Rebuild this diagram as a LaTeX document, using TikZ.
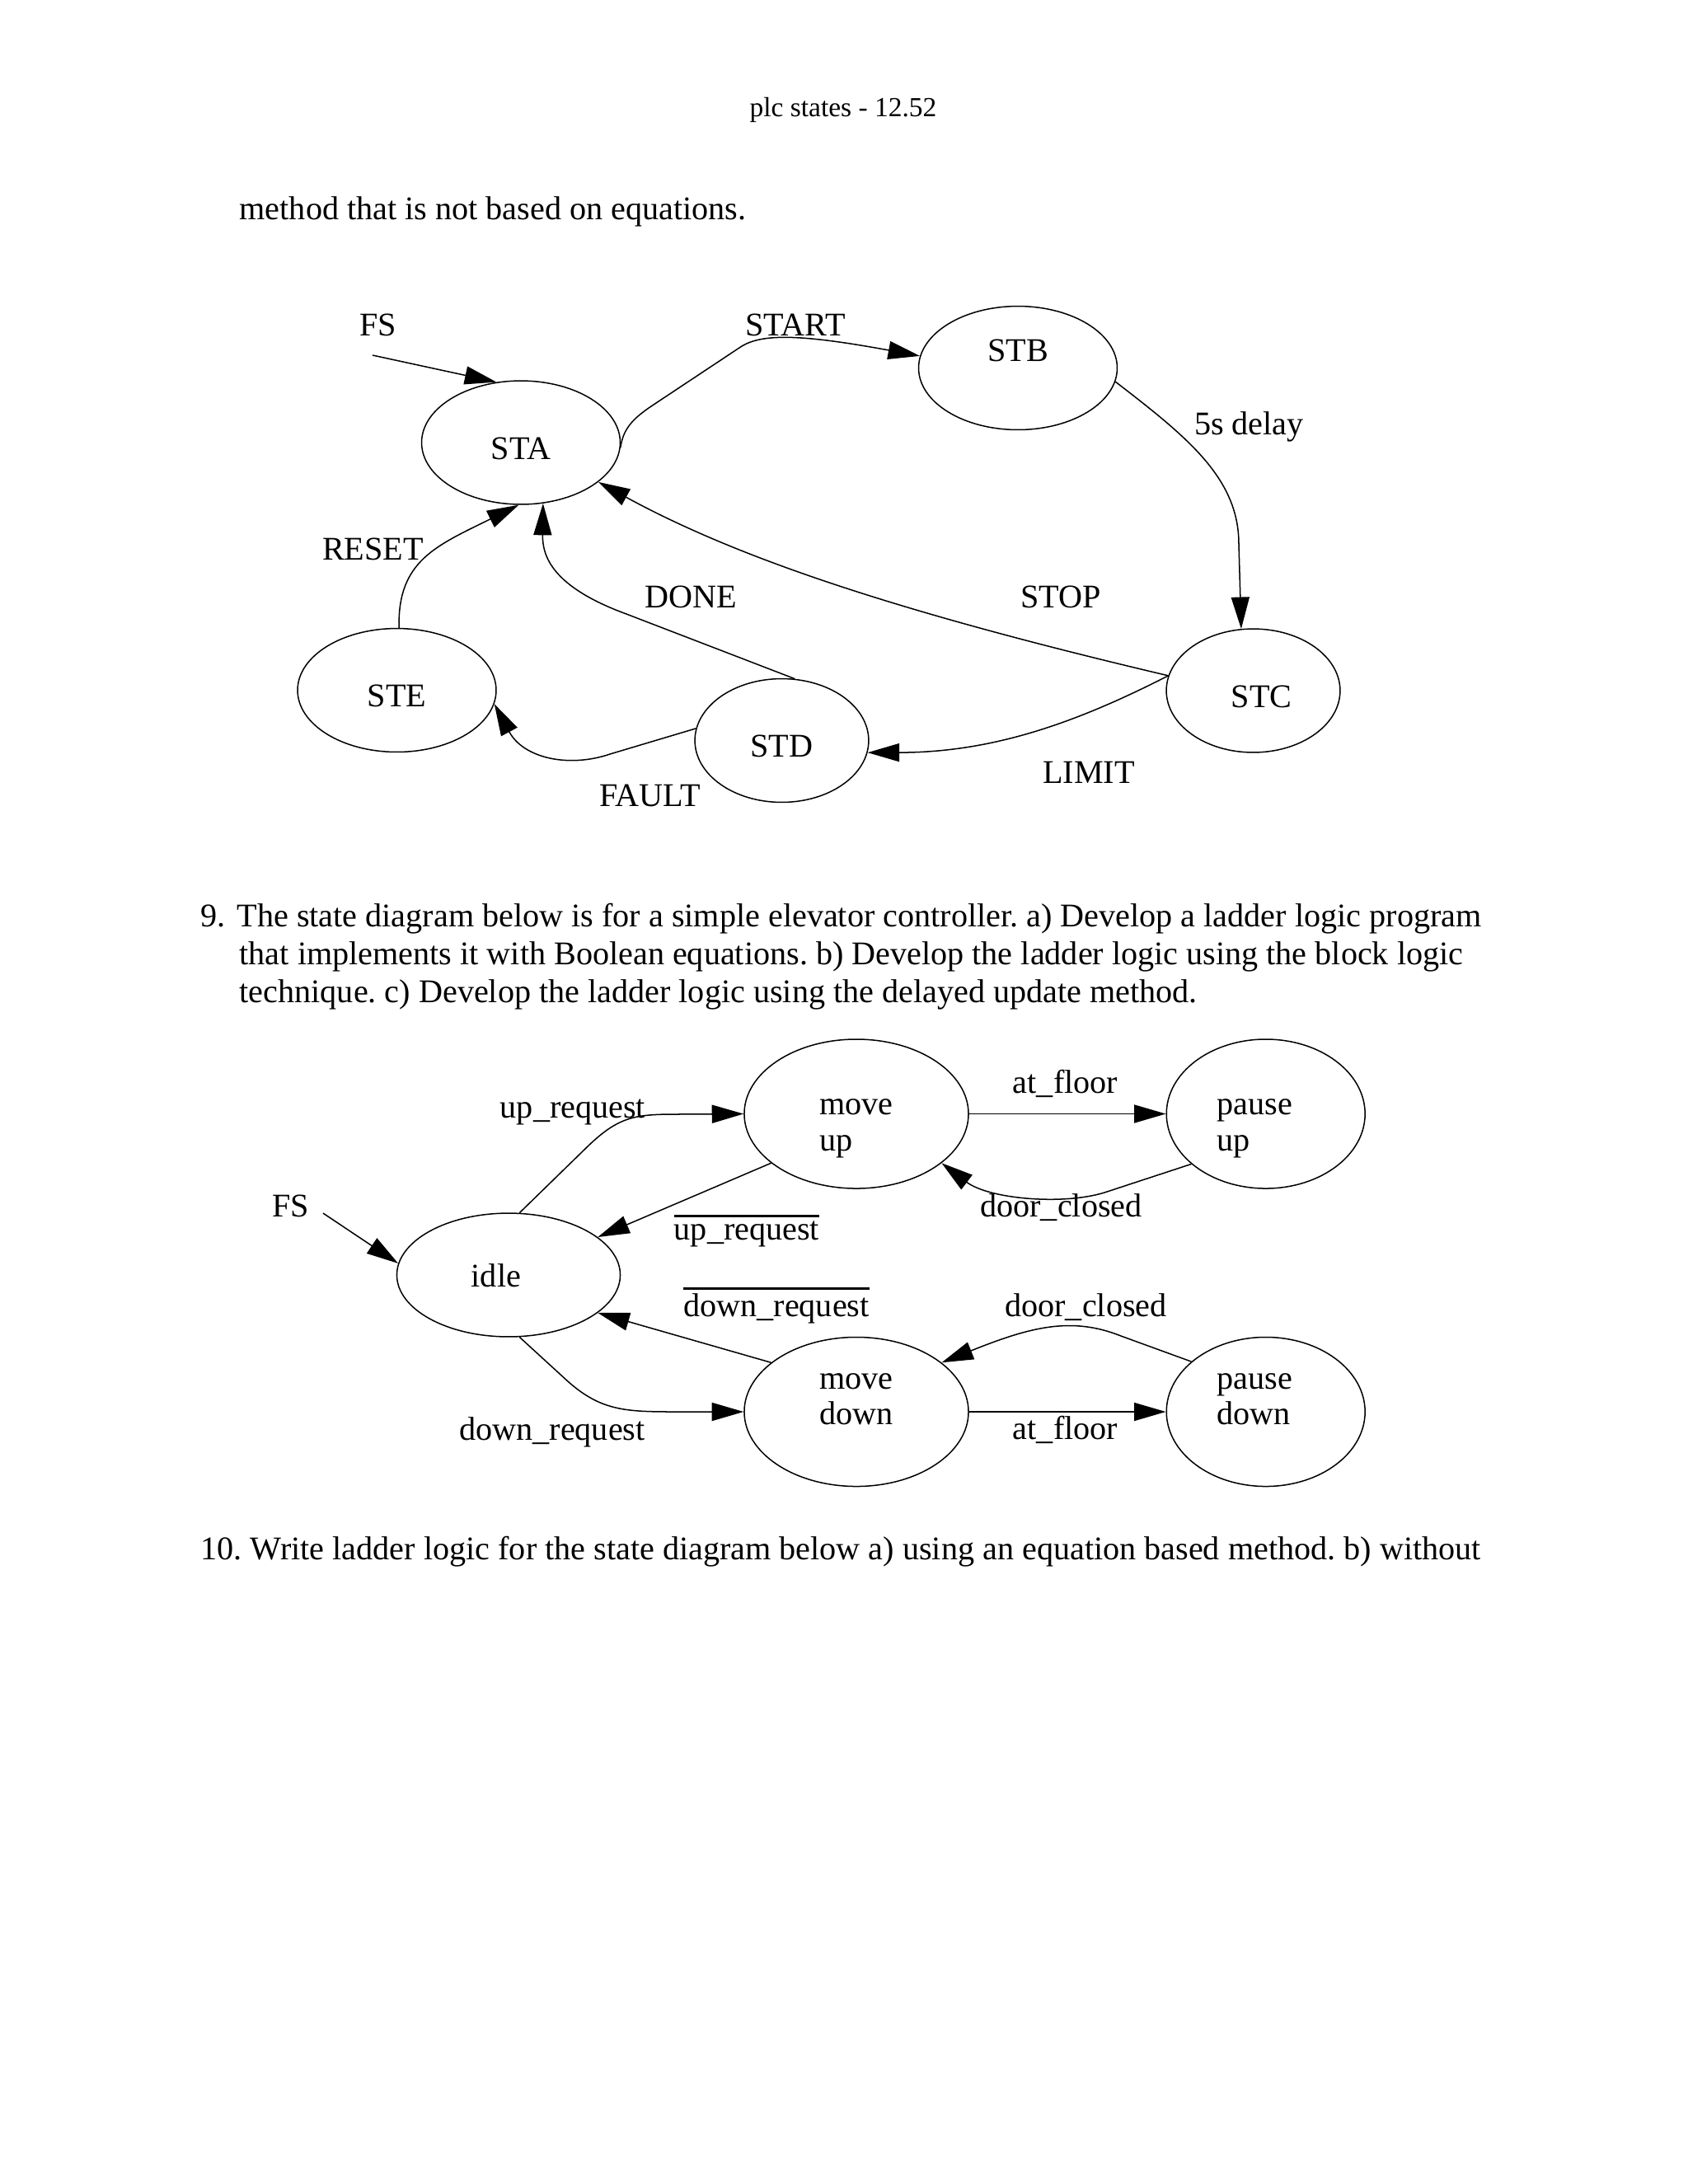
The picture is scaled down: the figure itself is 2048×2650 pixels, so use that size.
\documentclass[tikz,border=0pt]{standalone}
\usepackage{fontspec}
\setmainfont{Liberation Serif}
\usetikzlibrary{arrows.meta,shapes.geometric}
\newcommand{\barlabel}[1]{\vbox{\hrule height 1pt\kern 1.5pt\hbox{#1}}}
\frenchspacing

\begin{document}
\begin{tikzpicture}[x=0.298828pt,y=-0.298828pt,line width=0.45pt,
  >={Triangle[length=11.5pt,width=6.6pt]},
  state/.style={draw,ellipse,inner sep=0pt,minimum width=72pt,minimum height=44.8pt,
    text height=12pt,text depth=0pt,font=\fontsize{12}{13.1}\selectfont},
  twoline/.style={state,align=left,minimum height=54.1pt,text height=26.8pt,text depth=0pt},
  twolow/.style={twoline,text height=9.5pt},
  lab/.style={inner sep=0pt,anchor=base,font=\fontsize{12}{13.1}\selectfont},
  body/.style={inner sep=0pt,anchor=base west,font=\fontsize{12}{14}\selectfont}]
\useasboundingbox (0,0) rectangle (2048,2650);

\node[lab,font=\fontsize{10}{12}\selectfont] (head) at (1023,141.7) {plc states - 12.52};
\node[body] (line0) at (290,266.7) {method that is not based on equations.};

% sequence diagram
\node[state] (STA) at (632,537) {STA};
\node[state,text depth=16.7pt] (STB) at (1235,446.5) {STB};
\node[state,minimum width=63pt] (STC) at (1520.5,838) {\hspace{6pt}STC};
\node[state,minimum width=63pt] (STD) at (948.5,898.5) {STD};
\node[state] (STE) at (481.5,837.5) {STE};

\node[lab] (fsA) at (459,407) {FS};
\coordinate (fsAtail) at (452,431);
\draw[->] (fsAtail) -- (STA.112);

\draw[->] (STA.-3) .. controls (756,520) and (768,508) .. (790,493) -- (900,420)
  .. controls (925,405) and (970,405) .. (STB.173);
\node[lab] (start) at (965,407) {START};

\draw[->] (STB.-8) .. controls (1440,530) and (1503,580) .. (1503,660) -- (STC.101);
\node[lab] (delay) at (1515.5,527) {5s delay};

\draw[->] (STC.170) .. controls (1100,745) and (900,680) .. (STA.-27);
\node[lab] (stop) at (1287,737) {STOP};

\draw[->] (STC.170) .. controls (1300,880) and (1200,913) .. (STD.-8);
\node[lab] (limit) at (1321,950) {LIMIT};

\draw[->] (STD.78) -- (760,745) .. controls (670,712) and (658,675) .. (STA.-70);
\node[lab] (done) at (838,737) {DONE};

\draw[->] (STE.88) .. controls (482,680) and (530,662) .. (STA.-92);
\node[lab] (reset) at (452.5,679) {RESET};

\draw[->] (STD.172) -- (740,915) .. controls (690,932) and (635,920) .. (STE.-8);
\node[lab] (fault) at (789,978) {FAULT};

\node[body] (q9a) at (242.7,1124.3) {\makebox[13.2pt][l]{9.}The state diagram below is for a simple elevator controller. a) Develop a ladder logic program};
\node[body] (q9b) at (290,1170) {that implements it with Boolean equations. b) Develop the ladder logic using the block logic};
\node[body] (q9c) at (290,1216) {technique. c) Develop the ladder logic using the delayed update method.};

% elevator diagram
\node[state,minimum width=81pt,text height=8.4pt] (idle) at (617,1547) {\makebox[27pt][l]{idle}};
\node[twoline,minimum width=81.3pt] (mu) at (1039,1351.5) {move\\up};
\node[twoline] (pu) at (1535.7,1351.5) {\makebox[35.3pt][l]{pause}\\up};
\node[twolow,minimum width=81.3pt] (md) at (1039,1713) {move\\down};
\node[twolow] (pd) at (1535.7,1713) {\makebox[35.3pt][l]{pause}\\down};

\node[lab] (fsB) at (353,1476) {FS};
\coordinate (fsBtail) at (392,1472);
\draw[->] (fsBtail) -- (idle.174);

\draw[->] (idle.80) -- (712,1392) .. controls (750,1355) and (770,1352) .. (820,1352) -- (mu.west);
\node[lab] (upreq) at (695,1356) {up\_request};

\draw[->] (mu.210) -- (idle.23);
\node[lab] (notup) at (906,1504.5) {\barlabel{up\_request}};

\draw[->] (md.150) -- (idle.-23);
\node[lab] (notdown) at (942,1597.8) {\barlabel{down\_request}};

\draw[->] (idle.-80) -- (690,1677) .. controls (730,1712) and (760,1713) .. (820,1713) -- (md.west);
\node[lab] (downreq) at (670,1747) {down\_request};

\draw[->] (mu.east) -- (pu.west);
\node[lab] (floorA) at (1292.5,1326) {at\_floor};

\draw[->] (pu.214) -- (1340,1447) .. controls (1290,1462.5) and (1200,1455) .. (mu.-30);
\node[lab] (doorA) at (1287.5,1476) {door\_closed};

\draw[->] (pd.146) -- (1360,1621) .. controls (1300,1597) and (1250,1610) .. (md.30);
\node[lab] (doorB) at (1317.5,1597.8) {door\_closed};

\draw[->] (md.east) -- (pd.west);
\node[lab] (floorB) at (1292.5,1746.5) {at\_floor};

\node[body] (q10) at (243,1892.6) {10. Write ladder logic for the state diagram below a) using an equation based method. b) without};
\end{tikzpicture}
\end{document}
